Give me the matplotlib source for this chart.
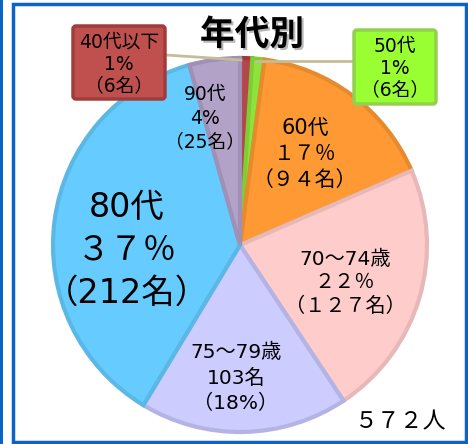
import matplotlib.pyplot as plt
import matplotlib.patches as mpatches
import matplotlib.patheffects as pe

plt.rcParams['font.family'] = ['DejaVu Sans', 'Noto Sans CJK JP']

# data (clockwise from 12 o'clock)
groups = ['40代以下', '50代', '60代', '70～74歳', '75～79歳', '80代', '90代']
counts = [6, 6, 94, 127, 103, 212, 25]
labels = ['40代以下\n1%\n（6名）', '50代\n1%\n（6名）', '60代\n１７％\n（９４名）',
          '70～74歳\n２２％\n（１２７名）', '75～79歳\n103名\n（18%）',
          '80代\n３７％\n（212名）', '90代\n4%\n（25名）']
total_label = '５７２人'
title = '年代別'

colors = ['#B5464A', '#8EE33A', '#FF9933', '#FFCCCC', '#CCCCFF', '#66CCFF', '#B3A2C7']
edges = ['#9C3A3C', '#7FCC35', '#E68A2E', '#E6B9B8', '#B4B4E4', '#5BB7E6', '#A090B6']

W, H = 468, 444
fig = plt.figure(figsize=(W / 100, H / 100), dpi=100)
ax = fig.add_axes([0, 0, 1, 1])
ax.axis('off')

def y(p):
    return H - p

# panel borders
ax.add_patch(mpatches.Rectangle((-5, -5), 8, H + 10, fc='#0A64C8', ec='none'))
ax.add_patch(mpatches.Rectangle((13, y(442)), 453, 438, fc='none', ec='#0A64C8', lw=2.5))

wedges, _ = ax.pie(counts, colors=colors, startangle=90, counterclock=False,
                   center=(240, y(245)), radius=187,
                   wedgeprops=dict(linewidth=3))
for w, ec in zip(wedges, edges):
    w.set_edgecolor(ec)
ax.set_xlim(0, W)
ax.set_ylim(0, H)
ax.set_aspect('auto')

# leader lines
ax.plot([166, 241], [y(55), y(60)], color='#C4BD97', lw=2, zorder=1)
ax.plot([353, 256], [y(61), y(61)], color='#C4BD97', lw=2, zorder=1)

# boxed labels for small slices
ax.add_patch(mpatches.FancyBboxPatch((73, y(99)), 92, 73, boxstyle='round,pad=0,rounding_size=3',
                                     fc='#C0504D', ec='#A03C3A', lw=2.5, zorder=3))
ax.add_patch(mpatches.FancyBboxPatch((354, y(104)), 82, 74, boxstyle='round,pad=0,rounding_size=3',
                                     fc='#99FF33', ec='#92D050', lw=2.5, zorder=3))
ax.text(119, y(64), labels[0], ha='center', va='center', fontsize=13.5, linespacing=1.2, zorder=4)
ax.text(395, y(68), labels[1], ha='center', va='center', fontsize=13.5, linespacing=1.2, zorder=4)

# slice labels
ax.text(305, y(154), labels[2], ha='center', va='center', fontsize=15, linespacing=1.35)
ax.text(345, y(283), labels[3], ha='center', va='center', fontsize=14.5, linespacing=1.3)
ax.text(236, y(378), labels[4], ha='center', va='center', fontsize=14.5, linespacing=1.4)
ax.text(127, y(250), labels[5], ha='center', va='center', fontsize=24, linespacing=1.38)
ax.text(205, y(118), labels[6], ha='center', va='center', fontsize=13.5, linespacing=1.3)

ax.text(401, y(422), total_label, ha='center', va='center', fontsize=16.5)
ax.text(252, y(35), title, ha='center', va='center', fontsize=25, fontweight='bold',
        path_effects=[pe.withSimplePatchShadow(offset=(1.5, -1.5), shadow_rgbFace='#888888', alpha=0.6)])

fig.savefig('out.png', dpi=100)
